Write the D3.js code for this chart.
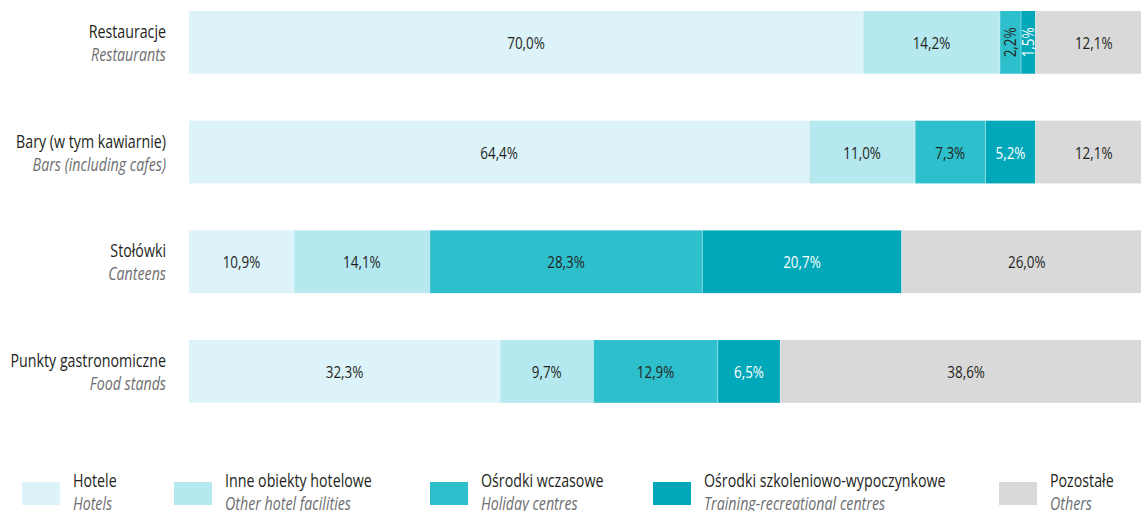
<!DOCTYPE html>
<html>
<head>
<meta charset="utf-8">
<script src="https://cdn.jsdelivr.net/npm/d3@7"></script>
<style>
  html, body { margin: 0; padding: 0; background: #fff; }
  svg { display: block; font-family: "Open Sans", "Noto Sans", "DejaVu Sans", sans-serif; }
</style>
</head>
<body>
<svg id="chart" width="1141" height="511"></svg>
<script>
// ---- data ----
const categoriesPL = ["Restauracje", "Bary (w tym kawiarnie)", "Stołówki", "Punkty gastronomiczne"];
const categoriesEN = ["Restaurants", "Bars (including cafes)", "Canteens", "Food stands"];
const seriesPL = ["Hotele", "Inne obiekty hotelowe", "Ośrodki wczasowe", "Ośrodki szkoleniowo-wypoczynkowe", "Pozostałe"];
const seriesEN = ["Hotels", "Other hotel facilities", "Holiday centres", "Training-recreational centres", "Others"];
const hotels       = [70.0, 64.4, 10.9, 32.3];
const otherHotel   = [14.2, 11.0, 14.1, 9.7];
const holiday      = [2.2, 7.3, 28.3, 12.9];
const training     = [1.5, 5.2, 20.7, 6.5];
const others       = [12.1, 12.1, 26.0, 38.6];

const colors = ["#dcf3f9", "#b5e8ef", "#2ebfcd", "#00a8b9", "#d9d9d9"];
const labelColors = ["#231f20", "#231f20", "#231f20", "#ffffff", "#231f20"];

const seriesValues = [hotels, otherHotel, holiday, training, others];
const rows = categoriesPL.map((c, i) => {
  const r = { key: c };
  seriesPL.forEach((s, j) => r[s] = seriesValues[j][i]);
  return r;
});

const svg = d3.select("#chart");

// horizontal condensing factor to emulate a condensed typeface
const probe = svg.append("text").attr("font-size", 18).text("Bary (w tym kawiarnie)");
const SX = 150 / probe.node().getComputedTextLength();
probe.remove();

function addText(g, tx, ty, str, o = {}) {
  const t = g.append("text")
    .attr("transform", `translate(${tx},${ty})` + (o.rotate ? ` rotate(${o.rotate})` : "") + ` scale(${SX},1)`)
    .attr("font-size", o.size || 18)
    .attr("fill", o.fill || "#231f20")
    .attr("text-anchor", o.anchor || "start")
    .text(str);
  if (o.italic) t.attr("font-style", "italic");
  return t;
}

const x = d3.scaleLinear().domain([0, 100]).range([189, 1152]);
const y = d3.scaleBand().domain(categoriesPL).range([11, 402.8]).paddingInner(0.428).paddingOuter(0);

const stacked = d3.stack().keys(seriesPL)(rows);
const fmt = v => d3.format(".1f")(v).replace(".", ",") + "%";

const layers = svg.append("g").selectAll("g")
  .data(stacked).join("g")
  .attr("fill", (d, i) => colors[i]);

layers.selectAll("rect")
  .data(d => d)
  .join("rect")
  .attr("x", d => x(d[0]))
  .attr("y", d => y(d.data.key))
  .attr("width", d => x(d[1]) - x(d[0]))
  .attr("height", y.bandwidth());

// separators between segments
stacked.slice(1).forEach(layer => {
  svg.append("g").selectAll("line")
    .data(layer).join("line")
    .attr("x1", d => x(d[0])).attr("x2", d => x(d[0]))
    .attr("y1", d => y(d.data.key)).attr("y2", d => y(d.data.key) + y.bandwidth())
    .attr("stroke", "#ffffff").attr("stroke-opacity", 0.4).attr("stroke-width", 1);
});

// value labels
stacked.forEach((layer, si) => {
  const g = svg.append("g");
  layer.forEach(d => {
    const v = d[1] - d[0];
    const w = x(d[1]) - x(d[0]);
    const cx = (x(d[0]) + x(d[1])) / 2;
    const cy = y(d.data.key) + y.bandwidth() / 2;
    if (w < 30) {
      addText(g, cx + 6, cy, fmt(v), { size: 17, anchor: "middle", fill: labelColors[si], rotate: -90 });
    } else {
      addText(g, cx, cy + 6.5, fmt(v), { size: 17, anchor: "middle", fill: labelColors[si] });
    }
  });
});

// category labels
const catG = svg.append("g");
categoriesPL.forEach((c, i) => {
  const cy = y(c) + y.bandwidth() / 2;
  addText(catG, 166, cy - 4.5, c, { anchor: "end" });
  addText(catG, 166, cy + 18.5, categoriesEN[i], { anchor: "end", italic: true, fill: "#6d6e71" });
});

// legend
const legendX = [22, 174, 430, 653, 999];
const leg = svg.append("g");
seriesPL.forEach((s, i) => {
  const gx = legendX[i];
  leg.append("rect").attr("x", gx).attr("y", 482).attr("width", 38).attr("height", 23).attr("fill", colors[i]);
  addText(leg, gx + 51, 486.5, s);
  addText(leg, gx + 51, 509.5, seriesEN[i], { italic: true, fill: "#6d6e71" });
});
</script>
</body>
</html>
